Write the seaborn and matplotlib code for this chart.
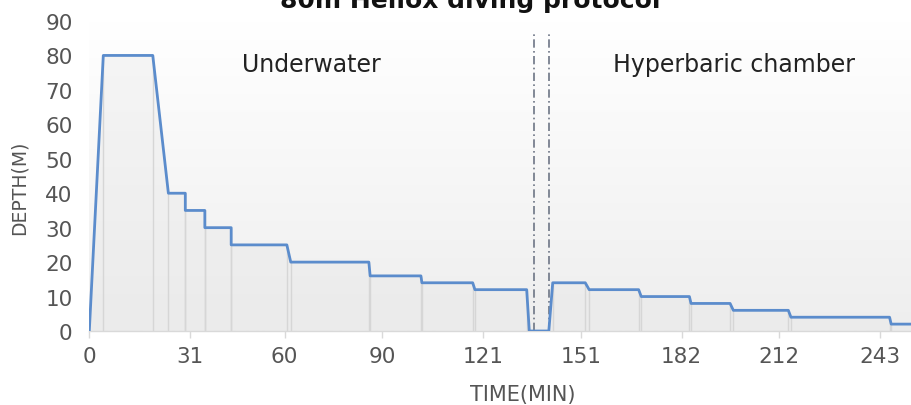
import numpy as np
import pandas as pd
import matplotlib
matplotlib.use("Agg")
import matplotlib.pyplot as plt
from matplotlib.colors import LinearSegmentedColormap
import seaborn as sns

# ---- data ----
time_min = [0, 4.3, 19.5, 24.3, 29.5, 29.5, 35.5, 35.5, 43.6, 43.6, 60.7, 61.9,
            85.9, 86.3, 101.9, 102.2, 117.8, 118.5, 134.4, 135.2, 141.2, 142.4,
            152.4, 153.6, 168.8, 169.6, 184.4, 184.9, 196.9, 197.9, 214.8, 215.6,
            245.9, 246.4, 253.0]
depth_m = [0, 80, 80, 40, 40, 35, 35, 30, 30, 25, 25, 20,
           20, 16, 16, 14, 14, 12, 12, 0, 0, 14,
           14, 12, 12, 10, 10, 8, 8, 6, 6, 4,
           4, 2, 2]
phase_bounds = [136.8, 141.4]
x_ticks = [0, 31, 60, 90, 121, 151, 182, 212, 243]
y_ticks = [0, 10, 20, 30, 40, 50, 60, 70, 80, 90]
phase_labels = ["Underwater", "Hyperbaric chamber"]
phase_label_x = [68.1, 198.1]
title = "80m Heliox diving protocol"

df = pd.DataFrame({"time": time_min, "depth": depth_m})

sns.set_theme(style="white")
plt.rcParams["font.family"] = ["DejaVu Sans"]

fig = plt.figure(figsize=(9.12, 4.06), dpi=100)
ax = fig.add_axes([89.3 / 912, 1 - 332 / 406, 1 - 89.3 / 912, (332 - 22) / 406])

# background gradient
cmap = LinearSegmentedColormap.from_list("bg", ["#ffffff", "#eeeeee"])
grad = np.linspace(0, 1, 256).reshape(-1, 1)
ax.imshow(grad, extent=[0, 1, 0, 1], transform=ax.transAxes, aspect="auto",
          cmap=cmap, zorder=0)

# faint area under the curve
ax.fill_between(df["time"], 0, df["depth"], color="#e6e6e6", alpha=0.35, lw=0, zorder=1)
# drop lines at every vertex
ax.vlines(df["time"], 0, df["depth"], color="#d6d6d6", lw=1.0, zorder=1.5)

sns.lineplot(data=df, x="time", y="depth", estimator=None, sort=False,
             color="#5b8ccc", lw=2.0, ax=ax, zorder=3)

for xb in phase_bounds:
    ax.plot([xb, xb], [0, 87], color="#6d7585", lw=1.2,
            linestyle=(0, (5, 2, 1, 2)), zorder=2.5)

for lbl, lx in zip(phase_labels, phase_label_x):
    ax.text(lx, 75.5, lbl, ha="center", va="baseline", fontsize=17, color="#222222")

ax.set_xlim(0, 252.8)
ax.set_ylim(0, 90)
ax.set_xticks(x_ticks)
ax.set_xticklabels([str(t) for t in x_ticks])
ax.set_yticks(y_ticks)
for s in ["top", "right", "left"]:
    ax.spines[s].set_visible(False)
ax.spines["bottom"].set_color("#d9d9d9")
ax.spines["bottom"].set_linewidth(1.0)
ax.tick_params(axis="x", length=5, width=1, color="#d9d9d9", labelsize=15.5,
               labelcolor="#555555", pad=6, bottom=True)
ax.tick_params(axis="y", length=0, labelsize=15.5, labelcolor="#555555", pad=12)
ax.set_xlabel("TIME(MIN)", fontsize=15, color="#555555")
ax.set_ylabel("DEPTH(M)", fontsize=13.5, color="#555555")
ax.xaxis.set_label_coords((523 - 89.3) / (912 - 89.3), -(395 - 332) / 310)
ax.yaxis.set_label_coords(-(89.3 - 19) / 822.7, (332 - 188) / 310)
ax.xaxis.label.set_va("center")
ax.yaxis.label.set_va("center")

fig.text(470 / 912, 1 - 8 / 406, title, ha="center", va="baseline",
         fontsize=18, fontweight="bold", color="#111111")

fig.savefig("out.png", dpi=100)
